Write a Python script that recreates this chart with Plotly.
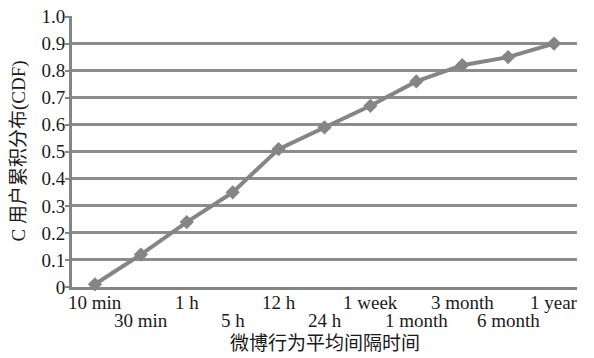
import plotly.graph_objects as go

categories = ["10 min", "30 min", "1 h", "5 h", "12 h", "24 h",
              "1 week", "1 month", "3 month", "6 month", "1 year"]
cdf_values = [0.01, 0.12, 0.24, 0.35, 0.51, 0.59, 0.67, 0.76, 0.82, 0.85, 0.90]
y_ticks = [0, 0.1, 0.2, 0.3, 0.4, 0.5, 0.6, 0.7, 0.8, 0.9, 1.0]
y_tick_labels = ["0", "0.1", "0.2", "0.3", "0.4", "0.5", "0.6", "0.7", "0.8", "0.9", "1.0"]
x_title = "微博行为平均间隔时间"
y_title = "C 用户累积分布(CDF)"

x_idx = list(range(len(categories)))

serif = "Liberation Serif, Noto Sans CJK SC, serif"
grey = "#858585"
grid = "#8c8c8c"
txt = "#1a1a1a"
fs = 19

fig = go.Figure()
fig.add_trace(go.Scatter(
    x=x_idx, y=cdf_values, mode="lines+markers",
    line=dict(color=grey, width=4),
    marker=dict(symbol="diamond", size=11, color=grey),
    showlegend=False, cliponaxis=False,
))

# staggered category labels (two rows)
for i, c in enumerate(categories):
    fig.add_annotation(
        x=i, xref="x", y=0, yref="paper", text=c, showarrow=False,
        yanchor="middle", xanchor="center",
        yshift=-15 if i % 2 == 0 else -33,
        font=dict(family=serif, size=fs, color=txt),
    )

fig.add_annotation(
    x=0.5, xref="paper", y=0, yref="paper", text=x_title, showarrow=False,
    yanchor="middle", xanchor="center", yshift=-56,
    font=dict(family=serif, size=fs, color=txt),
)
fig.add_annotation(
    x=0, xref="paper", y=0.5, yref="paper", text=y_title, showarrow=False,
    textangle=-90, yanchor="middle", xanchor="center", xshift=-54,
    font=dict(family=serif, size=fs, color=txt),
)

fig.update_layout(
    width=594, height=358,
    margin=dict(l=72, r=17, t=16, b=71),
    paper_bgcolor="white", plot_bgcolor="white",
    font=dict(family=serif, size=fs, color=txt),
    xaxis=dict(
        range=[-0.5, 10.5], tickmode="array", tickvals=x_idx,
        showticklabels=False, automargin=False,
        showgrid=False, zeroline=False, showline=True, linecolor=grey, linewidth=3,
        ticks="",
    ),
    yaxis=dict(
        range=[0, 1.002], tickmode="array", tickvals=y_ticks, ticktext=y_tick_labels,
        automargin=False,
        showgrid=True, gridcolor=grid, gridwidth=3, zeroline=False,
        showline=True, linecolor=grey, linewidth=3,
        ticks="outside", ticklen=4, tickcolor=grey, tickwidth=2,
        ticklabelstandoff=-4,
        tickfont=dict(family=serif, size=fs, color=txt),
    ),
)

fig.write_html("out.html", config={"displayModeBar": False},
               post_script="document.body.style.margin='0px';")
